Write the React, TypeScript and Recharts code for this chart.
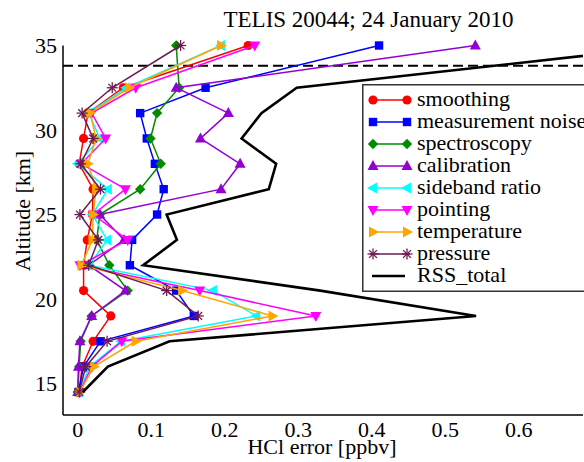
import React from 'react';
import { ScatterChart, Scatter, XAxis, YAxis, ReferenceLine, Legend } from 'recharts';

const FONT = '"Liberation Serif", "DejaVu Serif", "Times New Roman", serif';

// Altitudes [km]
const altitudes = [35, 32.5, 31, 29.5, 28, 26.5, 25, 23.5, 22, 20.5, 19, 17.5, 16, 14.5];

// HCl errors [ppbv] per error source
const smoothing = [0.232, 0.062, 0.014, 0.008, 0.002, 0.021, 0.02, 0.013, 0.008, 0.008, 0.045, 0.021, 0.006, 0.002];
const measurementNoise = [0.41, 0.174, 0.085, 0.094, 0.105, 0.117, 0.108, 0.074, 0.071, 0.134, 0.158, 0.031, 0.008, 0.001];
const spectroscopy = [0.134, 0.138, 0.108, 0.099, 0.113, 0.085, 0.03, 0.026, 0.043, 0.068, 0.019, 0.004, 0.002, 0.0];
const calibration = [0.541, 0.134, 0.205, 0.167, 0.221, 0.195, 0.03, 0.063, 0.015, 0.065, 0.019, 0.003, 0.001, 0.0];
const sidebandRatio = [0.195, 0.066, 0.015, 0.03, 0.0, 0.041, 0.02, 0.04, 0.016, 0.184, 0.243, 0.059, 0.016, 0.002];
const pointing = [0.241, 0.079, 0.019, 0.038, 0.005, 0.065, 0.021, 0.068, 0.003, 0.166, 0.324, 0.06, 0.019, 0.003];
const temperature = [0.195, 0.07, 0.017, 0.025, 0.014, 0.025, 0.021, 0.02, 0.005, 0.142, 0.265, 0.079, 0.022, 0.003];
const pressure = [0.14, 0.047, 0.006, 0.021, 0.004, 0.031, 0.003, 0.028, 0.015, 0.121, 0.164, 0.04, 0.011, 0.002];
const rssTotal = [0.815, 0.298, 0.25, 0.223, 0.27, 0.26, 0.121, 0.135, 0.089, 0.33, 0.542, 0.125, 0.041, 0.007];

const dashedAltitude = 33.8;

// Axis ticks
const xMajorTicks = [0, 0.1, 0.2, 0.3, 0.4, 0.5, 0.6];
const xMinorTicks = [-0.02, 0, 0.02, 0.04, 0.06, 0.08, 0.1, 0.12, 0.14, 0.16, 0.18, 0.2, 0.22, 0.24, 0.26, 0.28, 0.3, 0.32, 0.34, 0.36, 0.38, 0.4, 0.42, 0.44, 0.46, 0.48, 0.5, 0.52, 0.54, 0.56, 0.58, 0.6, 0.62, 0.64, 0.66, 0.68];
const yMajorTicks = [15, 20, 25, 30, 35];
const yMinorTicks = [14, 15, 16, 17, 18, 19, 20, 21, 22, 23, 24, 25, 26, 27, 28, 29, 30, 31, 32, 33, 34, 35];

const X_DOMAIN: [number, number] = [-0.02, 0.6875];
const Y_DOMAIN: [number, number] = [13.14, 35];

type Kind = 'circle' | 'square' | 'diamond' | 'up' | 'down' | 'left' | 'right' | 'star' | 'none';

const seriesDefs: { name: string; values: number[]; color: string; kind: Kind }[] = [
  { name: 'smoothing', values: smoothing, color: '#ff0000', kind: 'circle' },
  { name: 'measurement noise', values: measurementNoise, color: '#0000ff', kind: 'square' },
  { name: 'spectroscopy', values: spectroscopy, color: '#008b00', kind: 'diamond' },
  { name: 'calibration', values: calibration, color: '#9400d3', kind: 'up' },
  { name: 'sideband ratio', values: sidebandRatio, color: '#00ffff', kind: 'left' },
  { name: 'pointing', values: pointing, color: '#ff00ff', kind: 'down' },
  { name: 'temperature', values: temperature, color: '#ffa500', kind: 'right' },
  { name: 'pressure', values: pressure, color: '#6f1a52', kind: 'star' },
];

const toPoints = (vals: number[]) => vals.map((v, i) => ({ v, alt: altitudes[i] }));

function Marker({ kind, color, cx, cy }: { kind: Kind; color: string; cx: number; cy: number }) {
  if (cx == null || cy == null || isNaN(cx) || isNaN(cy)) return <g />;
  switch (kind) {
    case 'circle':
      return <circle cx={cx} cy={cy} r={4.6} fill={color} />;
    case 'square':
      return <rect x={cx - 4.2} y={cy - 4.2} width={8.4} height={8.4} fill={color} />;
    case 'diamond':
      return <polygon points={`${cx},${cy - 5.2} ${cx + 5.2},${cy} ${cx},${cy + 5.2} ${cx - 5.2},${cy}`} fill={color} />;
    case 'up':
      return <polygon points={`${cx},${cy - 6} ${cx + 5.5},${cy + 4} ${cx - 5.5},${cy + 4}`} fill={color} />;
    case 'down':
      return <polygon points={`${cx},${cy + 6} ${cx + 5.5},${cy - 4} ${cx - 5.5},${cy - 4}`} fill={color} />;
    case 'left':
      return <polygon points={`${cx - 6},${cy} ${cx + 4},${cy - 5.5} ${cx + 4},${cy + 5.5}`} fill={color} />;
    case 'right':
      return <polygon points={`${cx + 6},${cy} ${cx - 4},${cy - 5.5} ${cx - 4},${cy + 5.5}`} fill={color} />;
    case 'star': {
      const r = 5.5;
      const d = r * 0.7071;
      return (
        <g stroke={color} strokeWidth={1.3}>
          <line x1={cx - r} y1={cy} x2={cx + r} y2={cy} />
          <line x1={cx} y1={cy - r} x2={cx} y2={cy + r} />
          <line x1={cx - d} y1={cy - d} x2={cx + d} y2={cy + d} />
          <line x1={cx - d} y1={cy + d} x2={cx + d} y2={cy - d} />
        </g>
      );
    }
    default:
      return <g />;
  }
}

function LegendBox() {
  const rowH = 22;
  const first = 16;
  return (
    <svg width={240} height={208} style={{ display: 'block', overflow: 'visible' }}>
      <rect x={0.75} y={0.75} width={238} height={206.5} fill="#ffffff" stroke="#333333" strokeWidth={1.5} />
      {seriesDefs.map((s, i) => {
        const cy = first + i * rowH;
        return (
          <g key={s.name}>
            <line x1={8} y1={cy} x2={48} y2={cy} stroke={s.color} strokeWidth={1.5} />
            <Marker kind={s.kind} color={s.color} cx={11} cy={cy} />
            <Marker kind={s.kind} color={s.color} cx={45} cy={cy} />
            <text x={55} y={cy + 6} fontFamily={FONT} fontSize={22} fill="#000" style={{ fontFamily: FONT }}>
              {s.name}
            </text>
          </g>
        );
      })}
      <line x1={10} y1={first + 8 * rowH} x2={43} y2={first + 8 * rowH} stroke="#000" strokeWidth={2.5} />
      <text x={55} y={first + 8 * rowH + 6} fontFamily={FONT} fontSize={22} fill="#000" style={{ fontFamily: FONT }}>
        RSS_total
      </text>
    </svg>
  );
}

function XTick(props: any) {
  const { x, y, payload } = props;
  return (
    <text x={x} y={y} dy={15.6} textAnchor="middle" fontFamily={FONT} fontSize={22} fill="#000" style={{ fontFamily: FONT }}>
      {String(payload.value)}
    </text>
  );
}

function YTick(props: any) {
  const { x, y, payload } = props;
  return (
    <text x={x} y={y} dy={7.5} textAnchor="end" fontFamily={FONT} fontSize={22} fill="#000" style={{ fontFamily: FONT }}>
      {String(payload.value)}
    </text>
  );
}

const axisLineStyle = { stroke: '#000', strokeWidth: 1.5 };
const tickLineStyle = { stroke: '#000', strokeWidth: 1 };

export default function App() {
  return (
    <div style={{ position: 'absolute', left: 0, top: 0, width: 584, height: 462, overflow: 'hidden', background: '#fff' }}>
      <ScatterChart width={584} height={462} margin={{ top: 45.5, right: 1, bottom: 0, left: 0 }}>
        {/* labelled axes */}
        <XAxis
          xAxisId="b"
          type="number"
          dataKey="v"
          domain={X_DOMAIN}
          ticks={xMajorTicks}
          interval={0}
          tickLine={false}
          tickSize={0}
          tickMargin={6}
          axisLine={axisLineStyle}
          height={47}
          tick={<XTick />}
        />
        <YAxis
          yAxisId="l"
          type="number"
          dataKey="alt"
          domain={Y_DOMAIN}
          ticks={yMajorTicks}
          interval={0}
          tickLine={false}
          tickSize={0}
          tickMargin={6}
          axisLine={axisLineStyle}
          width={63}
          tick={<YTick />}
        />
        {/* inward tick marks (bottom/top) */}
        <XAxis xAxisId="bMaj" type="number" domain={X_DOMAIN} ticks={xMajorTicks} interval={0} mirror height={0} tick={false} tickSize={10} tickLine={tickLineStyle} axisLine={false} />
        <XAxis xAxisId="bMin" type="number" domain={X_DOMAIN} ticks={xMinorTicks} interval={0} mirror height={0} tick={false} tickSize={5} tickLine={tickLineStyle} axisLine={false} />
        <XAxis xAxisId="tMaj" orientation="top" type="number" domain={X_DOMAIN} ticks={xMajorTicks} interval={0} mirror height={0} tick={false} tickSize={10} tickLine={tickLineStyle} axisLine={axisLineStyle} />
        <XAxis xAxisId="tMin" orientation="top" type="number" domain={X_DOMAIN} ticks={xMinorTicks} interval={0} mirror height={0} tick={false} tickSize={5} tickLine={tickLineStyle} axisLine={false} />
        <XAxis xAxisId="rss" type="number" dataKey="v" domain={X_DOMAIN} allowDataOverflow hide />
        {/* inward tick marks (left/right) */}
        <YAxis yAxisId="lMaj" type="number" domain={Y_DOMAIN} ticks={yMajorTicks} interval={0} mirror width={0} tick={false} tickSize={10} tickLine={tickLineStyle} axisLine={false} />
        <YAxis yAxisId="lMin" type="number" domain={Y_DOMAIN} ticks={yMinorTicks} interval={0} mirror width={0} tick={false} tickSize={5} tickLine={tickLineStyle} axisLine={false} />
        <YAxis yAxisId="rMaj" orientation="right" type="number" domain={Y_DOMAIN} ticks={yMajorTicks} interval={0} mirror width={0} tick={false} tickSize={10} tickLine={tickLineStyle} axisLine={axisLineStyle} />
        <YAxis yAxisId="rMin" orientation="right" type="number" domain={Y_DOMAIN} ticks={yMinorTicks} interval={0} mirror width={0} tick={false} tickSize={5} tickLine={tickLineStyle} axisLine={false} />

        <ReferenceLine xAxisId="b" yAxisId="l" y={dashedAltitude} stroke="#000" strokeWidth={2} strokeDasharray="10 5" />

        {seriesDefs.map((s) => (
          <Scatter
            key={s.name}
            name={s.name}
            xAxisId="b"
            yAxisId="l"
            data={toPoints(s.values)}
            fill={s.color}
            line={{ stroke: s.color, strokeWidth: 1.5 }}
            lineType="joint"
            isAnimationActive={false}
            shape={(p: any) => <Marker kind={s.kind} color={s.color} cx={p.cx} cy={p.cy} />}
          />
        ))}
        <Scatter
          name="RSS_total"
          xAxisId="rss"
          yAxisId="l"
          data={toPoints(rssTotal)}
          fill="#000"
          line={{ stroke: '#000', strokeWidth: 2.6 }}
          lineType="joint"
          isAnimationActive={false}
          shape={() => <g />}
        />

        <Legend
          layout="vertical"
          align="center"
          verticalAlign="middle"
          wrapperStyle={{ left: 362, top: 84, width: 240, height: 208 }}
          content={() => <LegendBox />}
        />
      </ScatterChart>
      <svg width={584} height={462} style={{ position: 'absolute', left: 0, top: 0, pointerEvents: 'none' }}>
        <text x={368.5} y={27} textAnchor="middle" fontFamily={FONT} fontSize={23} fill="#000" style={{ fontFamily: FONT }}>
          TELIS 20044; 24 January 2010
        </text>
        <text x={322} y={454} textAnchor="middle" fontFamily={FONT} fontSize={22} fill="#000" style={{ fontFamily: FONT }}>
          HCl error [ppbv]
        </text>
        <text x={30} y={211} textAnchor="middle" fontFamily={FONT} fontSize={22} fill="#000" transform="rotate(-90 30 211)" style={{ fontFamily: FONT }}>
          Altitude [km]
        </text>
      </svg>
    </div>
  );
}
